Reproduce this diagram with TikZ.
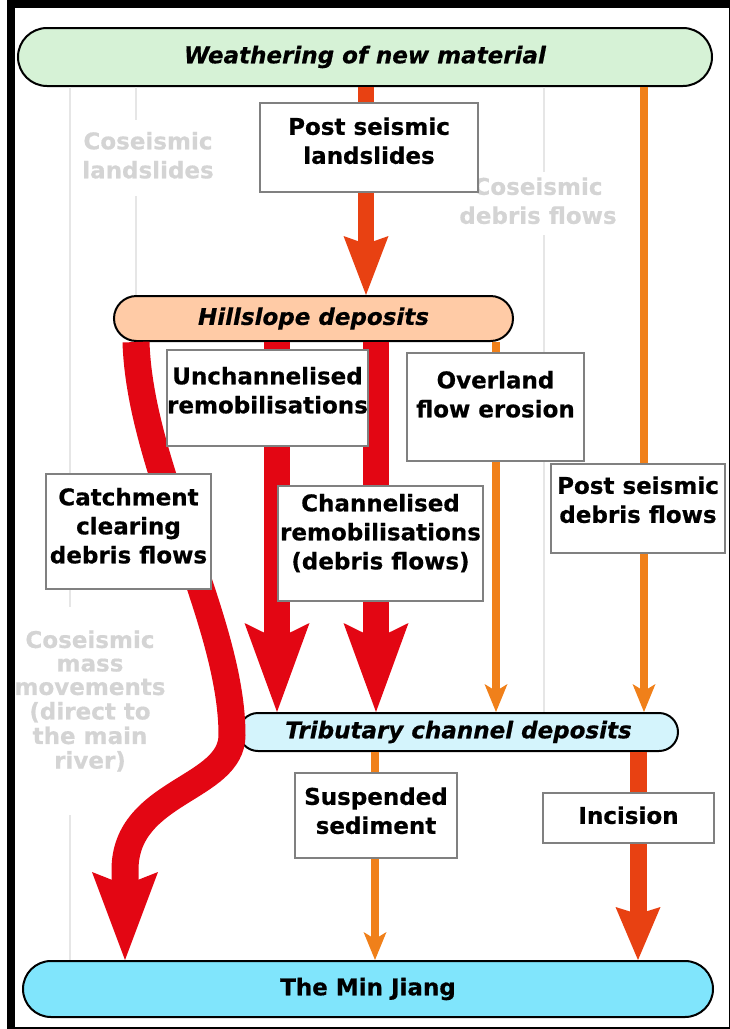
\documentclass[tikz,border=0pt]{standalone}
\usepackage{fontspec}
\setmainfont{DejaVu Sans}[BoldFeatures={FakeBold=0.6},BoldItalicFeatures={FakeBold=0.6}]
\usetikzlibrary{arrows.meta,shapes.misc}

\definecolor{redA}{RGB}{227,6,19}
\definecolor{redB}{RGB}{232,65,18}
\definecolor{orangeC}{RGB}{240,128,26}
\definecolor{weathergreen}{RGB}{214,242,214}
\definecolor{hillpeach}{RGB}{255,203,166}
\definecolor{tribcyan}{RGB}{212,244,252}
\definecolor{rivercyan}{RGB}{128,229,252}
\definecolor{cosgray}{RGB}{212,212,212}
\definecolor{linegray}{RGB}{230,230,230}
\definecolor{boxgray}{RGB}{128,128,128}

\newcommand{\boxtext}[2][0pt]{\raisebox{#1}[\height][\depth]{\begin{tabular}{@{}c@{}}#2\end{tabular}}}

\begin{document}
\begin{tikzpicture}
[
	x=1pt,y=-1pt,
	every node/.style={font=\fontsize{23}{29}\selectfont\bfseries,inner sep=0pt},
	store/.style={rounded rectangle,draw=black,line width=2pt},
	proc/.style={rectangle,draw=boxgray,line width=1.5pt,fill=white},
	cos/.style={text=cosgray},
	coline/.style={draw=linegray,line width=1.5pt},
	bigflow/.style={draw=redA,line width=27pt,-{Stealth[length=88pt,width=66pt,inset=13pt,line width=0pt]}},
	redflow/.style={draw=redA,line width=26pt,-{Stealth[length=89pt,width=65pt,inset=16pt,line width=0pt]}},
	slideflow/.style={draw=redB,line width=16pt,-{Stealth[length=59pt,width=45pt,inset=8pt,line width=0pt]}},
	cutflow/.style={draw=redB,line width=17pt,-{Stealth[length=53pt,width=45pt,inset=7pt,line width=0pt]}},
	thinflow/.style={draw=orangeC,line width=8.5pt,-{Stealth[length=28pt,width=23pt,inset=7pt,line width=0pt]}}
]

\useasboundingbox (0,0) rectangle (730,1029);
\draw[line width=8pt] (11,4) rectangle (733,1031);

\coordinate (fA) at(70,0);
\coordinate (fB) at(136,0);
\coordinate (fC) at(544,0);
\coordinate (f1) at(366,0);
\coordinate (f2) at(644,0);
\coordinate (f3) at(136,0);
\coordinate (f4) at(277,0);
\coordinate (f5) at(376,0);
\coordinate (f6) at(496,0);
\coordinate (f7) at(375,0);
\coordinate (f8) at(638,0);
\coordinate (f9) at(125,0);

\node[store,fill=weathergreen,minimum width=694pt,minimum height=58pt] (weather) at(365,57) {\itshape Weathering of new material};
\node[store,fill=hillpeach,minimum width=399pt,minimum height=45pt] (hill) at(313.5,318.5) {\itshape Hillslope deposits};
\node[store,fill=tribcyan,minimum width=439pt,minimum height=38pt] (trib) at(458.5,732) {\itshape Tributary channel deposits};
\node[store,fill=rivercyan,minimum width=690pt,minimum height=56pt] (river) at(368,989) {The Min Jiang};

\node[cos,minimum height=76pt] (co1) at(148,158) {\boxtext{Coseismic\\landslides}};
\node[cos,minimum height=63pt] (co2) at(538,203.5) {\boxtext{Coseismic\\debris flows}};
\node[cos,minimum height=208pt,font=\fontsize{23}{23.5}\selectfont\bfseries] (co3) at(90,711) {\boxtext[8pt]{Coseismic\\mass\\movements\\(direct to\\the main\\river)}};

\draw[coline] (weather.south -| fA) -- (co3.north -| fA);
\draw[coline] (co3.south -| fA) -- (river.north -| fA);
\draw[coline] (weather.south -| fB) -- (co1.north -| fB);
\draw[coline] (co1.south -| fB) -- (hill.north -| fB);
\draw[coline] (weather.south -| fC) -- (co2.north -| fC);
\draw[coline] (co2.south -| fC) -- (trib.north -| fC);

\draw[slideflow] (weather.south -| f1) -- (hill.north -| f1);
\draw[thinflow] (weather.south -| f2) -- (trib.north -| f2);
\draw[redflow] (hill.south -| f4) -- (trib.north -| f4);
\draw[redflow] (hill.south -| f5) -- (trib.north -| f5);
\draw[thinflow] (hill.south -| f6) -- (trib.north -| f6);
\draw[bigflow] (hill.south -| f3) .. controls (140,470) and (232,620) .. (232,735) .. controls (232,790) and (125,790) .. (125,870) -- (river.north -| f9);
\draw[thinflow] (trib.south -| f7) -- (river.north -| f7);
\draw[cutflow] (trib.south -| f8) -- (river.north -| f8);

\node[proc,minimum width=218pt,minimum height=89pt] (proc1) at(369,147.5) {\boxtext[4pt]{Post seismic\\landslides}};
\node[proc,minimum width=195pt,minimum height=96pt] (proc2) at(267.5,398) {\boxtext[5pt]{Unchannelised\\remobilisations}};
\node[proc,minimum width=177pt,minimum height=108pt] (proc3) at(495.5,407) {\boxtext[10pt]{Overland\\flow erosion}};
\node[proc,minimum width=165pt,minimum height=115pt] (proc4) at(128.5,531.5) {\boxtext[3pt]{Catchment\\clearing\\debris flows}};
\node[proc,minimum width=205pt,minimum height=115pt] (proc5) at(380.5,543.5) {\boxtext[9pt]{Channelised\\remobilisations\\(debris flows)}};
\node[proc,minimum width=174pt,minimum height=89pt] (proc6) at(638,508.5) {\boxtext[6pt]{Post seismic\\debris flows}};
\node[proc,minimum width=162pt,minimum height=85pt] (proc7) at(376,815.5) {\boxtext[2pt]{Suspended\\sediment}};
\node[proc,minimum width=171pt,minimum height=50pt] (proc8) at(628.5,818) {\boxtext{Incision}};

\end{tikzpicture}
\end{document}
